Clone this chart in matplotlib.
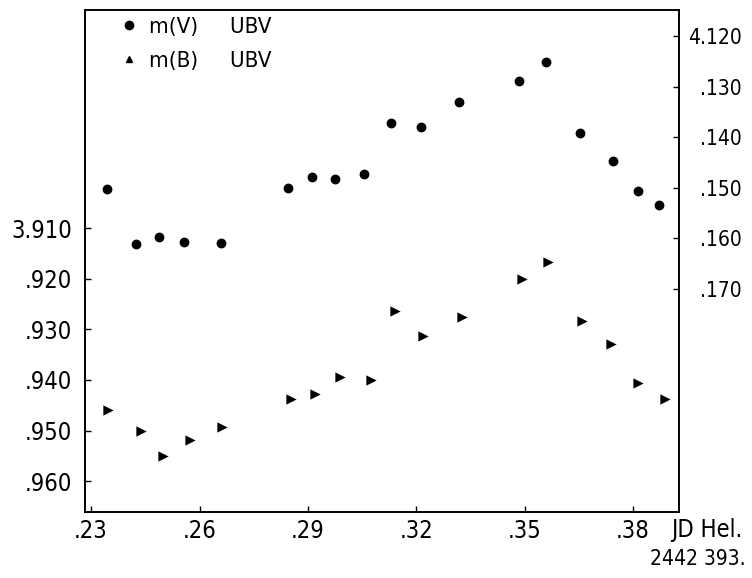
import numpy as np
import matplotlib
matplotlib.use("Agg")
import matplotlib.pyplot as plt
from matplotlib.lines import Line2D

# Données (JD Hel. - 2442393)
jd_v = [0.2343, 0.2425, 0.2488, 0.2557, 0.2659, 0.2846, 0.2911, 0.2976, 0.3055,
        0.3131, 0.3213, 0.3317, 0.3484, 0.3560, 0.3653, 0.3743, 0.3814, 0.3871]
m_v = [4.1502, 4.1612, 4.1598, 4.1607, 4.1610, 4.1500, 4.1478, 4.1483, 4.1472,
       4.1371, 4.1379, 4.1331, 4.1289, 4.1252, 4.1392, 4.1447, 4.1506, 4.1535]

jd_b = [0.2347, 0.2438, 0.2499, 0.2574, 0.2663, 0.2854, 0.2920, 0.2989, 0.3075,
        0.3141, 0.3219, 0.3327, 0.3493, 0.3565, 0.3659, 0.3739, 0.3814, 0.3889]
m_b = [3.9460, 3.9501, 3.9551, 3.9519, 3.9493, 3.9438, 3.9428, 3.9394, 3.9400,
       3.9264, 3.9313, 3.9276, 3.9201, 3.9167, 3.9284, 3.9329, 3.9406, 3.9438]

x_ticks = [0.23, 0.26, 0.29, 0.32, 0.35, 0.38]
x_labels = [".23", ".26", ".29", ".32", ".35", ".38"]
left_ticks = [3.910, 3.920, 3.930, 3.940, 3.950, 3.960]
left_labels = ["3.910", ".920", ".930", ".940", ".950", ".960"]
right_ticks = [4.120, 4.130, 4.140, 4.150, 4.160, 4.170]
right_labels = ["4.120", ".130", ".140", ".150", ".160", ".170"]

plt.rcParams['font.family'] = ['DejaVu Sans']
plt.rcParams['font.stretch'] = 'condensed'
fs = 17

fig = plt.figure(figsize=(7.52, 5.78), dpi=100)
ax = fig.add_axes([0.113, 0.114, 0.790, 0.869])
ax2 = ax.twinx()

# m(B) sur l'axe de gauche, m(V) sur l'axe de droite
ax.scatter(jd_b, m_b, marker='>', s=55, color='black', linewidths=0)
ax2.scatter(jd_v, m_v, marker='o', s=50, color='black', linewidths=0)

ax.set_xlim(0.2283, 0.3927)
ax.set_ylim(3.9661, 3.8669)
ax2.set_ylim(4.2142, 4.1148)

ax.set_xticks(x_ticks)
ax.set_xticklabels(x_labels, fontsize=fs)
ax.set_yticks(left_ticks)
ax.set_yticklabels(left_labels, fontsize=fs)
ax2.set_yticks(right_ticks)
ax2.set_yticklabels(right_labels, fontsize=fs - 2, ha='right')

ax.tick_params(axis='x', direction='in', length=4, width=1, pad=5)
ax.tick_params(axis='y', direction='in', length=4, width=1, pad=9)
ax2.tick_params(axis='y', direction='in', length=4, width=1, pad=45)

for a in (ax, ax2):
    for sp in a.spines.values():
        sp.set_linewidth(1.2)

ax.text(0.987, -0.012, "JD Hel.", transform=ax.transAxes, ha='left', va='top',
        fontsize=fs)
ax.text(1.112, -0.074, "2442 393.", transform=ax.transAxes, ha='right', va='top',
        fontsize=fs - 2)

handles = [Line2D([], [], marker='o', linestyle='none', color='black', markersize=6),
           Line2D([], [], marker='^', linestyle='none', color='black', markersize=5)]
ax.legend(handles, ["m(V)     UBV", "m(B)     UBV"], loc='upper left',
          bbox_to_anchor=(0.022, 1.025), frameon=False, fontsize=fs - 1,
          handletextpad=0.4, labelspacing=0.6, handlelength=1.0)

fig.savefig("out.png", dpi=100)
